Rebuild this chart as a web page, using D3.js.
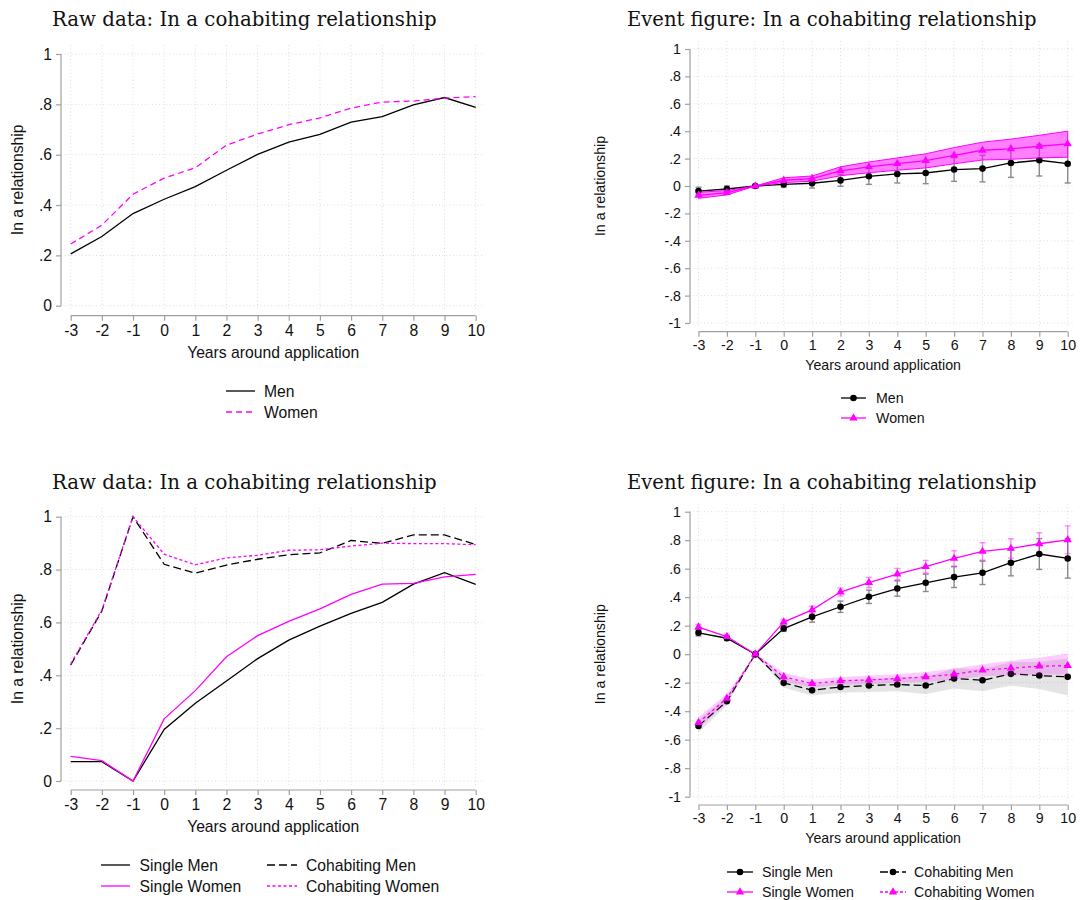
<!DOCTYPE html>
<html><head><meta charset="utf-8">
<script src="https://cdn.jsdelivr.net/npm/d3@7"></script>
<style>body{margin:0;background:#fff}svg{display:block}</style>
</head><body>
<svg id="c" width="1081" height="900"></svg>
<script>
// ---------- DATA ----------
const years = [-3,-2,-1,0,1,2,3,4,5,6,7,8,9,10];
const xTickLabels = ["-3","-2","-1","0","1","2","3","4","5","6","7","8","9","10"];
const rawYTicks = [0,0.2,0.4,0.6,0.8,1];
const rawYLabels = ["0",".2",".4",".6",".8","1"];
const evtYTicks = [-1,-0.8,-0.6,-0.4,-0.2,0,0.2,0.4,0.6,0.8,1];
const evtYLabels = ["-1","-.8","-.6","-.4","-.2","0",".2",".4",".6",".8","1"];
const titleRaw = "Raw data: In a cohabiting relationship";
const titleEvt = "Event figure: In a cohabiting relationship";
const yTitle = "In a relationship";
const xTitle = "Years around application";

// Panel 1: raw, all
const rawMen   = [0.206,0.275,0.366,0.423,0.473,0.538,0.601,0.650,0.681,0.729,0.751,0.798,0.827,0.788];
const rawWomen = [0.245,0.320,0.443,0.507,0.548,0.638,0.682,0.719,0.746,0.785,0.809,0.813,0.825,0.831];

// Panel 2: event, all
const evMen     = [-0.037,-0.022,0,0.012,0.020,0.041,0.071,0.088,0.095,0.120,0.127,0.168,0.188,0.163];
const evMenLo   = [-0.065,-0.045,0,-0.010,-0.015,-0.002,0.012,0.022,0.017,0.034,0.030,0.063,0.073,0.022];
const evMenHi   = [-0.009,0.001,0,0.034,0.055,0.084,0.130,0.154,0.173,0.206,0.224,0.273,0.303,0.304];
const evWomen   = [-0.068,-0.049,0,0.042,0.054,0.110,0.139,0.163,0.185,0.224,0.261,0.271,0.290,0.307];
const evWomenLo = [-0.090,-0.065,0,0.025,0.035,0.075,0.097,0.115,0.132,0.162,0.190,0.195,0.205,0.210];
const evWomenHi = [-0.046,-0.033,0,0.060,0.073,0.140,0.175,0.205,0.235,0.280,0.320,0.342,0.370,0.400];

// Panel 3: raw, by initial status
const rawSingleMen   = [0.073,0.073,0,0.195,0.294,0.378,0.463,0.533,0.586,0.634,0.676,0.745,0.788,0.744];
const rawSingleWomen = [0.093,0.077,0,0.235,0.342,0.470,0.550,0.604,0.651,0.706,0.745,0.748,0.772,0.782];
const rawCohabMen    = [0.439,0.643,1.0,0.820,0.786,0.817,0.839,0.856,0.863,0.910,0.899,0.931,0.931,0.895];
const rawCohabWomen  = [0.443,0.647,1.0,0.858,0.818,0.844,0.854,0.873,0.875,0.889,0.900,0.898,0.898,0.894];

// Panel 4: event, by initial status
const evSingleMen     = [0.150,0.112,0,0.180,0.262,0.333,0.403,0.461,0.501,0.541,0.571,0.642,0.703,0.672];
const evSingleMenLo   = [0.128,0.097,0,0.160,0.225,0.293,0.356,0.407,0.440,0.468,0.489,0.550,0.595,0.534];
const evSingleMenHi   = [0.172,0.127,0,0.200,0.299,0.373,0.450,0.515,0.562,0.614,0.653,0.734,0.811,0.810];
const evSingleWomen   = [0.190,0.124,0,0.225,0.311,0.436,0.503,0.562,0.614,0.672,0.721,0.742,0.775,0.803];
const evSingleWomenLo = [0.170,0.109,0,0.206,0.285,0.408,0.467,0.522,0.570,0.618,0.660,0.674,0.698,0.706];
const evSingleWomenHi = [0.210,0.139,0,0.244,0.337,0.464,0.539,0.602,0.658,0.726,0.782,0.810,0.852,0.900];
const evCohabMen      = [-0.503,-0.330,0,-0.201,-0.253,-0.230,-0.220,-0.213,-0.220,-0.171,-0.183,-0.138,-0.150,-0.159];
const evCohabMenLo    = [-0.550,-0.360,0,-0.235,-0.290,-0.270,-0.265,-0.260,-0.280,-0.240,-0.260,-0.220,-0.245,-0.290];
const evCohabMenHi    = [-0.460,-0.300,0,-0.165,-0.215,-0.190,-0.175,-0.165,-0.160,-0.100,-0.105,-0.055,-0.055,-0.030];
const evCohabWomen    = [-0.480,-0.309,0,-0.159,-0.206,-0.187,-0.180,-0.171,-0.159,-0.140,-0.112,-0.098,-0.084,-0.080];
const evCohabWomenLo  = [-0.520,-0.340,0,-0.190,-0.235,-0.215,-0.210,-0.200,-0.195,-0.180,-0.155,-0.150,-0.140,-0.145];
const evCohabWomenHi  = [-0.440,-0.280,0,-0.130,-0.175,-0.160,-0.150,-0.140,-0.125,-0.100,-0.070,-0.045,-0.025,0.005];

// ---------- DRAW ----------
const svg = d3.select("#c");
const MAG = "#ff00ff", BLK = "#000000", AX = "#a0a0a0", GRID = "#dcdcdc";
const SANS = "'Liberation Sans', Arial, sans-serif";
const SERIF = "'DejaVu Serif', 'Liberation Serif', serif";

function fitText(sel, width){
  const w = sel.node().getComputedTextLength();
  const fs = parseFloat(sel.attr("font-size"));
  sel.attr("font-size", fs*width/w);
}

function panel(c){
  const g = svg.append("g");
  const x = d3.scaleLinear().domain([-3,10]).range(c.xr);
  const y = d3.scaleLinear().domain(c.yd).range(c.yr);
  const top = y(c.yd[1]) - c.padTop, bot = y(c.yd[0]) + 4, right = x(10) + 7;
  // grid
  g.append("g").selectAll("line").data(c.yTicks).join("line")
    .attr("x1", c.ax).attr("x2", right).attr("y1", d=>y(d)).attr("y2", d=>y(d))
    .attr("stroke", GRID).attr("stroke-width",1).attr("stroke-dasharray","1,2.5");
  g.append("g").selectAll("line").data(years).join("line")
    .attr("x1", d=>x(d)).attr("x2", d=>x(d)).attr("y1", top).attr("y2", bot)
    .attr("stroke", GRID).attr("stroke-width",1).attr("stroke-dasharray","1,2.5");
  // axes
  const ya = d3.axisLeft(y).tickValues(c.yTicks).tickSize(5).tickPadding(4)
     .tickFormat((d,i)=>c.yLabels[i]);
  const yg = g.append("g").attr("transform",`translate(${c.ax},0)`).call(ya);
  const xa = d3.axisBottom(x).tickValues(years).tickSize(5).tickPadding(c.xPad)
     .tickFormat((d,i)=>xTickLabels[i]);
  const xg = g.append("g").attr("transform",`translate(0,${c.ay})`).call(xa);
  [yg,xg].forEach(a=>{
    a.select(".domain").attr("stroke",AX).attr("stroke-width",1.2)
      .attr("d", a===yg ? `M0,${y(c.yd[0])}V${y(c.yd[1])}` : `M${x(-3)},0H${x(10)}`);
    a.selectAll(".tick line").attr("stroke",AX).attr("stroke-width",1.2);
    a.selectAll(".tick text").attr("font-family",SANS).attr("font-size",c.fs).attr("fill","#111");
  });
  // titles
  const t = g.append("text").attr("x",c.tx).attr("y",c.ty).attr("font-family",SERIF)
    .attr("font-size",20).attr("fill","#111").text(c.title);
  fitText(t, c.tw);
  g.append("text").attr("transform",`translate(${c.ytx},${(y(c.yd[0])+y(c.yd[1]))/2}) rotate(-90)`)
    .attr("text-anchor","middle").attr("font-family",SANS).attr("font-size",c.fs).attr("fill","#111").text(yTitle);
  g.append("text").attr("x",(x(-3)+x(10))/2).attr("y",c.xty).attr("text-anchor","middle")
    .attr("font-family",SANS).attr("font-size",c.fs).attr("fill","#111").text(xTitle);
  return {g,x,y};
}

function line(p, vals, color, dash, w){
  p.g.append("path").datum(vals)
    .attr("d", d3.line().x((d,i)=>p.x(years[i])).y(d=>p.y(d)))
    .attr("fill","none").attr("stroke",color).attr("stroke-width",w||1.3)
    .attr("stroke-dasharray",dash||null);
}
function band(p, lo, hi, fill, edge){
  p.g.append("path").datum(years.map((yr,i)=>[yr,lo[i],hi[i]]))
    .attr("d", d3.area().x(d=>p.x(d[0])).y0(d=>p.y(d[1])).y1(d=>p.y(d[2])))
    .attr("fill",fill).attr("stroke",edge||"none").attr("stroke-width",1);
}
function ebars(p, lo, hi, color){
  const gg = p.g.append("g").attr("stroke",color).attr("stroke-width",1.4);
  years.forEach((yr,i)=>{
    if(lo[i]===hi[i]) return;
    const xx = p.x(yr);
    gg.append("line").attr("x1",xx).attr("x2",xx).attr("y1",p.y(lo[i])).attr("y2",p.y(hi[i]));
    gg.append("line").attr("x1",xx-3).attr("x2",xx+3).attr("y1",p.y(lo[i])).attr("y2",p.y(lo[i]));
    gg.append("line").attr("x1",xx-3).attr("x2",xx+3).attr("y1",p.y(hi[i])).attr("y2",p.y(hi[i]));
  });
}
const circ = d3.symbol().type(d3.symbolCircle).size(34);
const tri = d3.symbol().type(d3.symbolTriangle).size(30);
function markers(p, vals, sym, color){
  p.g.append("g").selectAll("path").data(vals).join("path")
    .attr("transform",(d,i)=>`translate(${p.x(years[i])},${p.y(d)})`)
    .attr("d", sym).attr("fill",color);
}
function legendItem(g, x1, x2, yy, color, dash, sym, label, tx, fs){
  g.append("line").attr("x1",x1).attr("x2",x2).attr("y1",yy).attr("y2",yy)
    .attr("stroke",color).attr("stroke-width",1.3).attr("stroke-dasharray",dash||null);
  if(sym) g.append("path").attr("transform",`translate(${(x1+x2)/2},${yy})`).attr("d",sym).attr("fill",color);
  g.append("text").attr("x",tx).attr("y",yy+fs*0.36).attr("font-family",SANS).attr("font-size",fs)
    .attr("fill","#111").text(label);
}

// Panel 1
const p1 = panel({xr:[70.7,475.7], yd:[0,1], yr:[305.7,54], ax:61, ay:315.7, padTop:9, xPad:4,
  yTicks:rawYTicks, yLabels:rawYLabels, fs:15.7, title:titleRaw, tx:52, ty:26, tw:385, ytx:23, xty:358});
line(p1, rawMen, BLK);
line(p1, rawWomen, MAG, "6,4");
legendItem(p1.g, 226, 255, 391, BLK, null, null, "Men", 264, 15.7);
legendItem(p1.g, 226, 255, 412, MAG, "6,4", null, "Women", 264, 15.7);

// Panel 2
const p2 = panel({xr:[698.5,1067.7], yd:[-1,1], yr:[323,49], ax:690, ay:331.7, padTop:8, xPad:3,
  yTicks:evtYTicks, yLabels:evtYLabels, fs:14.2, title:titleEvt, tx:627, ty:26, tw:410, ytx:604.5, xty:369.5});
ebars(p2, evMenLo, evMenHi, "#8a8a8a");
line(p2, evMen, BLK);
markers(p2, evMen, circ, BLK);
band(p2, evWomenLo, evWomenHi, "rgba(255,0,255,0.5)", MAG);
line(p2, evWomen, MAG);
markers(p2, evWomen, tri, MAG);
legendItem(p2.g, 841, 866, 398, BLK, null, circ, "Men", 876, 14.2);
legendItem(p2.g, 841, 866, 418, MAG, null, tri, "Women", 876, 14.2);

// Panel 3
const p3 = panel({xr:[70.7,475.7], yd:[0,1], yr:[781,516.7], ax:61, ay:790, padTop:9, xPad:4,
  yTicks:rawYTicks, yLabels:rawYLabels, fs:15.7, title:titleRaw, tx:52, ty:489, tw:385, ytx:23, xty:832});
line(p3, rawCohabMen, BLK, "8,4");
line(p3, rawCohabWomen, MAG, "3,2.5");
line(p3, rawSingleMen, BLK);
line(p3, rawSingleWomen, MAG);
legendItem(p3.g, 101, 130, 865, BLK, null, null, "Single Men", 139.5, 15.7);
legendItem(p3.g, 101, 130, 886, MAG, null, null, "Single Women", 139.5, 15.7);
legendItem(p3.g, 267, 297, 865, BLK, "8,4", null, "Cohabiting Men", 306, 15.7);
legendItem(p3.g, 267, 297, 886, MAG, "3,2.5", null, "Cohabiting Women", 306, 15.7);

// Panel 4
const p4 = panel({xr:[698.5,1067.7], yd:[-1,1], yr:[796.7,511.7], ax:690, ay:805, padTop:8, xPad:3,
  yTicks:evtYTicks, yLabels:evtYLabels, fs:14.2, title:titleEvt, tx:627, ty:489, tw:410, ytx:604.5, xty:843});
ebars(p4, evSingleMenLo, evSingleMenHi, "#8a8a8a");
ebars(p4, evSingleWomenLo, evSingleWomenHi, "rgba(255,0,255,0.45)");
band(p4, evCohabMenLo, evCohabMenHi, "rgba(120,120,120,0.2)");
line(p4, evCohabMen, BLK, "8,4");
markers(p4, evCohabMen, circ, BLK);
band(p4, evCohabWomenLo, evCohabWomenHi, "rgba(255,0,255,0.2)");
line(p4, evCohabWomen, MAG, "3,3");
markers(p4, evCohabWomen, tri, MAG);
line(p4, evSingleMen, BLK);
markers(p4, evSingleMen, circ, BLK);
line(p4, evSingleWomen, MAG);
markers(p4, evSingleWomen, tri, MAG);
legendItem(p4.g, 727, 753, 872, BLK, null, circ, "Single Men", 762, 14.2);
legendItem(p4.g, 727, 753, 892, MAG, null, tri, "Single Women", 762, 14.2);
legendItem(p4.g, 880, 906, 872, BLK, "8,3", circ, "Cohabiting Men", 914, 14.2);
legendItem(p4.g, 880, 906, 892, MAG, "3,2", tri, "Cohabiting Women", 914, 14.2);
</script>
</body></html>
